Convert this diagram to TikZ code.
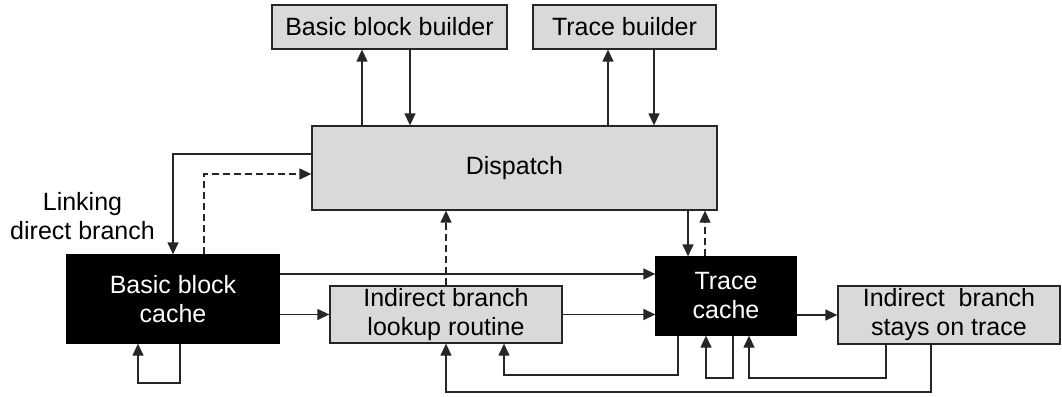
\documentclass[tikz,border=0pt]{standalone}
\usepackage{fontspec}
\setmainfont{Liberation Sans}
\usetikzlibrary{arrows.meta}
\definecolor{boxgray}{HTML}{D9D9D9}
\definecolor{linegray}{HTML}{262626}
\begin{document}
\begin{tikzpicture}[x=1pt,y=-1pt,
  line width=1.3pt,
  txt/.style={font=\fontsize{25}{29}\selectfont, align=center},
  gbox/.style={txt, draw=linegray, fill=boxgray, inner sep=0pt},
  kbox/.style={txt, draw=black, fill=black, text=white, inner sep=0pt},
  conn/.style={draw=linegray, line width=1.3pt},
  arr/.style={conn, -{Triangle[length=12pt,width=11pt]}},
  darr/.style={arr, dashed, dash pattern=on 7pt off 4pt}]
\useasboundingbox (0,0) rectangle (1062,396);

% boxes
\node[gbox, minimum width=235pt, minimum height=44pt] (bbb) at (389.5,27) {Basic block builder};
\node[gbox, minimum width=183pt, minimum height=44pt] (tb) at (624.5,27) {Trace builder};
\node[gbox, minimum width=405pt, minimum height=84pt] (disp) at (514.5,168) {Dispatch};
\node[kbox, minimum width=212pt, minimum height=88pt] (bbc) at (173,299) {Basic block\\cache};
\node[gbox, minimum width=232pt, minimum height=57pt] (ibl) at (446,314.5) {Indirect branch\\lookup routine};
\node[kbox, minimum width=140pt, minimum height=78pt] (tc) at (726,296) {Trace\\cache};
\node[gbox, minimum width=222pt, minimum height=58pt] (ibst) at (949,315) {Indirect\ \ branch\\stays on trace};
\node[txt] (lbl) at (82.5,216) {Linking\\direct branch};

% helper coordinates
\coordinate (x362) at (362,0);
\coordinate (x410) at (410,0);
\coordinate (x608) at (608,0);
\coordinate (x654) at (654,0);
\coordinate (y154) at (0,154);
\coordinate (d1) at (204,174);
\coordinate (y274) at (0,274);
\coordinate (x688) at (688,0);
\coordinate (x705) at (705,0);
\coordinate (l1) at (180,383);
\coordinate (l2) at (138,383);
\coordinate (t1) at (678,375);
\coordinate (t2) at (504,375);
\coordinate (s1) at (733,378);
\coordinate (s2) at (706,378);
\coordinate (r1) at (886,378);
\coordinate (r2) at (749,378);
\coordinate (q1) at (931,392);
\coordinate (q2) at (446,392);

% builders <-> dispatch
\draw[arr] (disp.north -| x362) -- (bbb.south -| x362);
\draw[arr] (bbb.south -| x410) -- (disp.north -| x410);
\draw[arr] (disp.north -| x608) -- (tb.south -| x608);
\draw[arr] (tb.south -| x654) -- (disp.north -| x654);

% dispatch <-> basic block cache
\draw[arr] (disp.west |- y154) -| (bbc.north);
\draw[darr] (bbc.north -| d1) -- (d1) -- (disp.west |- d1);

% basic block cache self loop
\draw[arr] (bbc.south -| l1) -- (l1) -- (l2) -- (bbc.south -| l2);

% basic block cache outputs
\draw[arr] (bbc.east |- y274) -- (tc.west |- y274);
\draw[arr] (bbc.east |- ibl.west) -- (ibl.west);

% indirect lookup
\draw[darr] (ibl.north) -- (disp.south -| ibl.north);
\draw[arr] (ibl.east) -- (tc.west |- ibl.east);

% dispatch <-> trace cache
\draw[arr] (disp.south -| x688) -- (tc.north -| x688);
\draw[darr] (tc.north -| x705) -- (disp.south -| x705);

% trace cache -> stays on trace
\draw[arr] (tc.east |- ibst.west) -- (ibst.west);

% lower loops
\draw[arr] (tc.south -| t1) -- (t1) -- (t2) -- (ibl.south -| t2);
\draw[arr] (tc.south -| s1) -- (s1) -- (s2) -- (tc.south -| s2);
\draw[arr] (ibst.south -| r1) -- (r1) -- (r2) -- (tc.south -| r2);
\draw[arr] (ibst.south -| q1) -- (q1) -- (q2) -- (ibl.south);
\end{tikzpicture}
\end{document}
